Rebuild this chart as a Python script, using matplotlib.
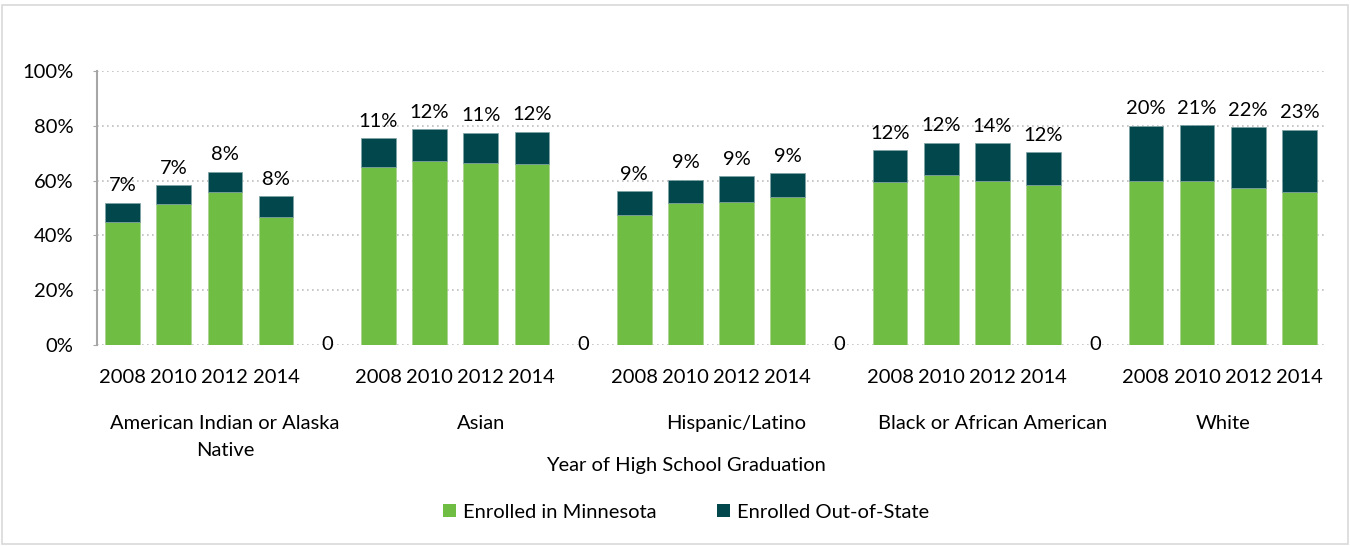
#!/usr/bin/env python3
"""College enrollment by race/ethnicity and year of high school graduation."""

import matplotlib
matplotlib.use("Agg")
import matplotlib.pyplot as plt
from matplotlib.patches import Patch, Rectangle

groups = [
    "American Indian or Alaska\nNative",
    "Asian",
    "Hispanic/Latino",
    "Black or African American",
    "White",
]
years = ["2008", "2010", "2012", "2014"]

# share enrolled in Minnesota (%), one row per group, columns follow years
in_mn = [
    [44.8, 51.4, 55.7, 46.7],
    [64.8, 67.2, 66.3, 66.2],
    [47.4, 51.8, 52.3, 54.1],
    [59.4, 62.2, 60.0, 58.3],
    [60.0, 59.7, 57.4, 55.8],
]
# share enrolled out-of-state (%)
out_state = [
    [7.2, 6.9, 7.5, 7.6],
    [10.7, 11.6, 11.2, 11.6],
    [8.7, 8.6, 9.2, 8.7],
    [11.6, 11.6, 13.6, 12.1],
    [20.1, 20.6, 22.2, 22.8],
]

GREEN = "#70BD44"
TEAL = "#02474B"
FS = 14.5

plt.rcParams["font.family"] = ["Lato", "DejaVu Sans"]
plt.rcParams["font.size"] = FS

n_years = len(years)
slot = n_years + 1  # one empty category between groups

fig = plt.figure(figsize=(13.5, 5.46), dpi=100)
ax = fig.add_axes([97 / 1350, 1 - 345 / 546, (1325 - 97) / 1350, (345 - 71) / 546])

# light frame around the whole chart
fig.patches.append(Rectangle((2 / 1350, 2 / 546), 1346 / 1350, 539 / 546,
                             transform=fig.transFigure, fill=False,
                             edgecolor="#D9D9D9", linewidth=1.2))

xs, tick_labels = [], []
for gi in range(len(groups)):
    for yi in range(n_years):
        x = gi * slot + yi
        mn = in_mn[gi][yi]
        out = out_state[gi][yi]
        ax.bar(x, mn, width=0.68, color=GREEN, edgecolor="#A9D18E", linewidth=0.5, zorder=3)
        ax.bar(x, out, bottom=mn, width=0.68, color=TEAL, edgecolor="#7FA3A5",
               linewidth=0.5, zorder=3)
        ax.annotate(f"{round(out):.0f}%", (x, mn + out), xytext=(0, 6),
                    textcoords="offset points", ha="center", va="bottom")
        xs.append(x)
        tick_labels.append(years[yi])
    if gi < len(groups) - 1:
        # empty spacer category shows a zero label
        ax.text(gi * slot + n_years, 0, "0", ha="center", va="center")

ax.set_xlim(-0.5, len(groups) * slot - 1.5)
ax.set_ylim(0, 100)
ax.set_yticks(range(0, 101, 20))
ax.set_yticklabels([f"{v}%" for v in range(0, 101, 20)])
ax.set_xticks(xs)
ax.set_xticklabels(tick_labels)
ax.tick_params(axis="x", length=0, pad=17)
ax.tick_params(axis="y", length=3, color="#A6A6A6", pad=14)

ax.yaxis.grid(True, linestyle=(0, (1, 2)), color="#BFBFBF", linewidth=1.2, zorder=0)
ax.set_axisbelow(True)
for side in ("top", "right", "bottom"):
    ax.spines[side].set_visible(False)
ax.spines["left"].set_color("#A6A6A6")
ax.spines["left"].set_linewidth(1.5)

# group labels under the year ticks
for gi, name in enumerate(groups):
    if gi < len(groups) - 1:
        cx = gi * slot + n_years / 2
    else:
        cx = gi * slot + (n_years - 1) / 2
    ax.text(cx, -0.255, name, ha="center", va="top", linespacing=1.72,
            transform=ax.get_xaxis_transform())

fig.text(686 / 1350, 1 - 465 / 546, "Year of High School Graduation",
         ha="center", va="center")

handles = [Patch(facecolor=GREEN, label="Enrolled in Minnesota"),
           Patch(facecolor=TEAL, label="Enrolled Out-of-State")]
fig.legend(handles=handles, loc="center", bbox_to_anchor=(686 / 1350, 1 - 512 / 546),
           ncol=2, frameon=False, handlelength=0.65, handleheight=0.65,
           handletextpad=0.35, columnspacing=3.0)

fig.savefig("out.png", dpi=100)
